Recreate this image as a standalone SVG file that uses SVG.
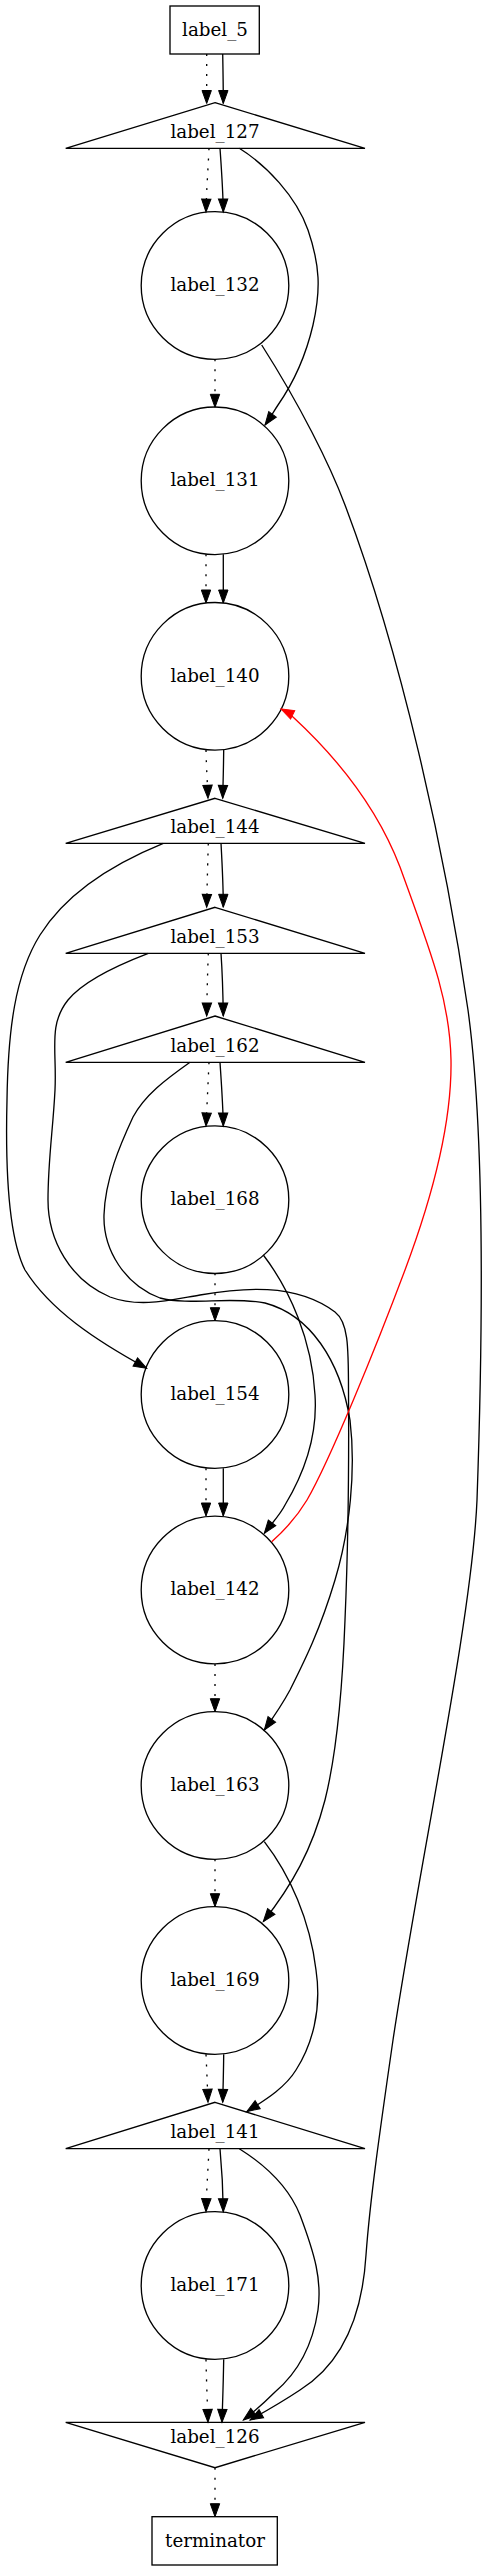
<svg xmlns="http://www.w3.org/2000/svg" width="489" height="2571" viewBox="0 0 489 2571">
<style>
.n{fill:none;stroke:#000;stroke-width:1.33}
.t{font-family:"DejaVu Serif","Liberation Serif",serif;font-size:18.3px;text-anchor:middle;fill:#000}
.e{fill:none;stroke:#000;stroke-width:1.33}
.d{stroke-dasharray:2,8}
.r{stroke:#f00}
.a{marker-end:url(#ah)}
.ar{marker-end:url(#ahr)}
</style>
<defs>
<marker id="ah" markerUnits="userSpaceOnUse" markerWidth="14" markerHeight="10" refX="13" refY="4.7" orient="auto" overflow="visible">
<path d="M0,0 L13,4.7 L0,9.4 z" fill="#000" stroke="#000" stroke-width="1"/>
</marker>
<marker id="ahr" markerUnits="userSpaceOnUse" markerWidth="14" markerHeight="10" refX="13" refY="4.7" orient="auto" overflow="visible">
<path d="M0,0 L13,4.7 L0,9.4 z" fill="#f00" stroke="#f00" stroke-width="1"/>
</marker>
</defs>
<rect width="489" height="2571" fill="#fff"/>
<g id="nodes">
<g id="label_5"><rect class="n" x="170" y="6" width="89.3" height="48"/><text class="t" x="215" y="35.5">label_5</text></g>
<g id="label_127"><polygon class="n" points="215,102.7 365,148.3 65.7,148.3"/><text class="t" x="215" y="138.3">label_127</text></g>
<g id="label_132"><circle class="n" cx="215" cy="285.5" r="73.8"/><text class="t" x="215" y="290.5">label_132</text></g>
<g id="label_131"><circle class="n" cx="215" cy="480.8" r="73.8"/><text class="t" x="215" y="485.8">label_131</text></g>
<g id="label_140"><circle class="n" cx="215" cy="676.3" r="73.8"/><text class="t" x="215" y="681.5">label_140</text></g>
<g id="label_144"><polygon class="n" points="215,798.3 365,843.3 65.7,843.3"/><text class="t" x="215" y="833.3">label_144</text></g>
<g id="label_153"><polygon class="n" points="215,907.3 365,953.3 65.7,953.3"/><text class="t" x="215" y="942.7">label_153</text></g>
<g id="label_162"><polygon class="n" points="215,1016 365,1062.3 65.7,1062.3"/><text class="t" x="215" y="1052.3">label_162</text></g>
<g id="label_168"><circle class="n" cx="215" cy="1199.7" r="73.8"/><text class="t" x="215" y="1204.5">label_168</text></g>
<g id="label_154"><circle class="n" cx="215" cy="1394.5" r="73.8"/><text class="t" x="215" y="1399.5">label_154</text></g>
<g id="label_142"><circle class="n" cx="215" cy="1590" r="73.8"/><text class="t" x="215" y="1595.3">label_142</text></g>
<g id="label_163"><circle class="n" cx="215" cy="1785.5" r="73.8"/><text class="t" x="215" y="1790.7">label_163</text></g>
<g id="label_169"><circle class="n" cx="215" cy="1980.5" r="73.8"/><text class="t" x="215" y="1985.7">label_169</text></g>
<g id="label_141"><polygon class="n" points="215,2102.3 365,2148.7 65.7,2148.7"/><text class="t" x="215" y="2138.3">label_141</text></g>
<g id="label_171"><circle class="n" cx="215" cy="2285.5" r="73.8"/><text class="t" x="215" y="2290.7">label_171</text></g>
<g id="label_126"><polygon class="n" points="65.7,2422.3 365,2422.3 215,2467.7"/><text class="t" x="215" y="2443.3">label_126</text></g>
<g id="terminator"><rect class="n" x="152" y="2516.7" width="125.3" height="48.3"/><text class="t" x="215" y="2546.5">terminator</text></g>
</g>
<g id="connectors">
<path class="e d a" d="M206.7,54 L206.7,103.5"/>
<path class="e a" d="M222.7,54 C223,70 223.3,85 223.3,103.5"/>
<path class="e d a" d="M209,148.3 C208,170 206.5,190 206,212"/>
<path class="e a" d="M220,148.3 C221.5,170 223,190 223.3,212"/>
<path class="e a" d="M239.3,148.3 C266,165 296,196 308,230 C320,265 321,290 313,325 C306,355 294,382 278,405 C274,411 270,418 265,425"/>
<path class="e d a" d="M215,359.3 L215,407.3"/>
<path class="e a" d="M261.7,345 C300,405 330,465 345,505 C400,650 445,850 468,1010 C483,1120 484,1300 477,1500 C472,1620 420,1860 393,2040 C380,2130 370,2200 366,2255 C362,2320 340,2365 300,2390 C285,2400 268,2410 250,2420"/>
<path class="e d a" d="M206,554.3 L206,603"/>
<path class="e a" d="M223.3,554.3 L223.3,603"/>
<path class="e d a" d="M206,750 C206.5,770 207.5,785 208,798.3"/>
<path class="e a" d="M223.7,750 C223.5,770 223,785 222.7,798.3"/>
<path class="e d a" d="M208.3,843.3 C207.5,870 207,890 206.7,907.3"/>
<path class="e a" d="M221,843.3 C222.5,870 223.3,890 223.3,907.3"/>
<path class="e a" d="M163.3,843.3 C110,865 65,895 40,935 C15,975 8,1030 7,1100 C5,1180 10,1240 25,1270 C50,1310 95,1340 146.7,1368.3"/>
<path class="e d a" d="M208.3,953.3 C207.5,975 207,995 206.7,1016"/>
<path class="e a" d="M221,953.3 C222.5,975 223,995 223.3,1016"/>
<path class="e a" d="M148.3,953.3 C110,968 80,985 68,1000 C48,1025 57,1050 55,1090 C53,1130 48,1160 48,1200 C48,1240 70,1280 110,1297 C140,1308 170,1300 200,1295 C240,1288 295,1282 335,1312 C348,1322 348.5,1345 348.5,1390 C349,1460 348,1550 345,1620 C342,1700 335,1760 325,1800 C312,1850 292,1885 263.3,1921.7"/>
<path class="e d a" d="M209,1062.3 C208,1085 207,1105 206,1126"/>
<path class="e a" d="M220,1062.3 C221.5,1085 223,1105 223.3,1126"/>
<path class="e a" d="M190,1062.3 C165,1080 145,1095 133,1117 C120,1145 105,1180 104,1215 C103,1250 125,1285 160,1298 C190,1306 230,1296 265,1303 C310,1315 340,1360 350,1420 C356,1470 350,1530 335,1580 C320,1630 305,1660 290,1690 C282,1705 275,1715 264.3,1730"/>
<path class="e d a" d="M215,1273.3 L215,1320.7"/>
<path class="e a" d="M263.3,1255 C290,1290 312,1340 315,1395 C318,1440 300,1480 285,1505 C280,1515 272,1523 264.3,1533.3"/>
<path class="e d a" d="M206,1468.3 L206,1516"/>
<path class="e a" d="M223.3,1468.3 L223.3,1516"/>
<path class="e r ar" d="M271.7,1541.7 C285,1530 298,1515 307,1500 C330,1460 375,1350 405,1270 C435,1190 452,1120 451,1060 C450,1000 430,950 400,867 C380,815 345,765 293,717 C289,714 285,711 281,709"/>
<path class="e d a" d="M215,1664 L215,1711.7"/>
<path class="e d a" d="M215,1859.3 L215,1906.7"/>
<path class="e a" d="M264.3,1841.7 C290,1875 310,1920 316,1970 C322,2010 312,2045 296,2070 C285,2088 265,2100 246.7,2111.7"/>
<path class="e d a" d="M206,2054.3 C207,2075 207.5,2090 208,2102.3"/>
<path class="e a" d="M223.7,2054.3 C223.5,2075 223,2090 222.7,2102.3"/>
<path class="e d a" d="M209,2148.7 C208,2170 206.5,2190 206,2211.7"/>
<path class="e a" d="M220,2148.7 C222,2170 223,2190 223.3,2211.7"/>
<path class="e a" d="M239.3,2148.7 C270,2168 290,2190 300,2215 C315,2255 322,2280 318,2310 C312,2350 295,2375 275,2392 C265,2402 255,2411 243.3,2420"/>
<path class="e d a" d="M206,2359.3 C206.5,2385 207.5,2405 208,2422.3"/>
<path class="e a" d="M223.7,2359.3 C223.3,2385 222.5,2405 222,2422.3"/>
<path class="e d a" d="M215,2467.7 L215,2516.7"/>
</g>
</svg>
